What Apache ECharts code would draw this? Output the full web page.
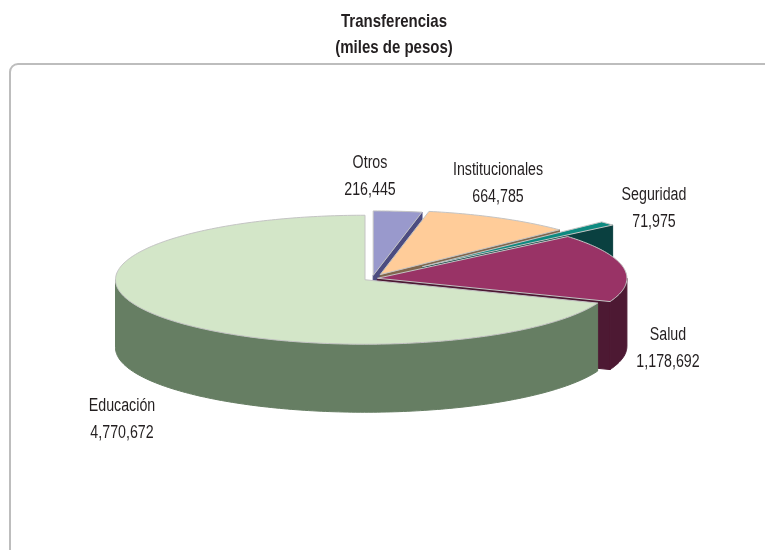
<!DOCTYPE html>
<html>
<head>
<meta charset="utf-8">
<script src="https://cdn.jsdelivr.net/npm/echarts@6/dist/echarts.min.js"></script>
<style>html,body{margin:0;padding:0;background:#fff}#c{width:765px;height:550px}</style>
</head>
<body>
<div id="c"></div>
<script>
// Data: clockwise from 12 o'clock
const categories = ['Otros', 'Institucionales', 'Seguridad', 'Salud', 'Educación'];
const values = [216445, 664785, 71975, 1178692, 4770672];
const titleLines = ['Transferencias', '(miles de pesos)'];

// Style
const topColors = ['#9999CC', '#FFCC99', '#0E8A80', '#993366', '#D3E6C8'];
const sideColors = ['#4C4C80', '#80664D', '#0A4040', '#4D1933', '#667E63'];
const explodeShare = [0.048, 0.068, 0.272, 0.022, 0.034];
const labelCenters = [[370, 176.5], [498, 183.5], [654, 208.5], [668, 348.5], [122, 419.5]];

const FONT = '"Liberation Sans", sans-serif';
const CX = 372, CY = 278.5, RX = 249.5, RY = 64.5, DEPTH = 68;
const TEXT_SQUEEZE = 0.79;
const TOTAL = values.reduce((a, b) => a + b, 0);
const RAD = Math.PI / 180;

let running = 0;
const spans = values.map(v => {
  const s = running;
  running += v / TOTAL * 360;
  return [s, running];
});

function renderSlice(params, api) {
  const i = api.value(0);
  const [t0, t1] = spans[i];
  const mid = (t0 + t1) / 2 * RAD;
  const d = explodeShare[i] * RX;
  const ax = CX + d * Math.sin(mid);
  const ay = CY - d * Math.cos(mid) * RY / RX;
  const pt = (t, dz) => [ax + RX * Math.sin(t * RAD), ay - RY * Math.cos(t * RAD) + (dz || 0)];
  const arc = (a, b, dz) => {
    const out = [], n = Math.max(2, Math.ceil(Math.abs(b - a)));
    for (let k = 0; k <= n; k++) out.push(pt(a + (b - a) * k / n, dz));
    return out;
  };
  const children = [];
  const side = sideColors[i];
  const poly = (points, fill, stroke) => ({
    type: 'polygon',
    shape: { points },
    style: { fill, stroke: stroke || fill, lineWidth: 1, lineJoin: 'round' }
  });
  // cut face at the clockwise end of the slice
  if (Math.sin(t1 * RAD) > 0.001) {
    children.push(poly([[ax, ay], pt(t1), pt(t1, DEPTH), [ax, ay + DEPTH]], side));
  }
  // cut face at the counter-clockwise start of the slice
  if (Math.sin(t0 * RAD) < -0.001) {
    children.push(poly([[ax, ay], pt(t0), pt(t0, DEPTH), [ax, ay + DEPTH]], side));
  }
  // outer wall, visible on the front half of the ellipse
  const w0 = Math.max(t0, 90), w1 = Math.min(t1, 270);
  if (w1 > w0) {
    children.push(poly(arc(w0, w1, 0).concat(arc(w1, w0, DEPTH)), side));
  }
  // top face
  children.push(poly([[ax, ay]].concat(arc(t0, t1, 0)), topColors[i], '#C4C4C4'));
  // label
  children.push({
    type: 'text',
    z2: 10,
    x: labelCenters[i][0],
    y: labelCenters[i][1],
    scaleX: TEXT_SQUEEZE,
    style: {
      text: categories[i] + '\n' + api.value(1).toLocaleString('en-US'),
      x: 0,
      y: 0,
      align: 'center',
      verticalAlign: 'middle',
      lineHeight: 27,
      font: '18px ' + FONT,
      fill: '#231F20'
    }
  });
  return { type: 'group', children };
}

const chart = echarts.init(document.getElementById('c'), null, { renderer: 'canvas' });
chart.setOption({
  animation: false,
  backgroundColor: '#fff',
  graphic: [{
    type: 'text',
    silent: true,
    x: 394,
    y: 35,
    scaleX: TEXT_SQUEEZE,
    style: {
      text: titleLines.join('\n'),
      align: 'center',
      verticalAlign: 'middle',
      lineHeight: 26,
      font: 'bold 19px ' + FONT,
      fill: '#231F20'
    }
  }, {
    type: 'rect',
    silent: true,
    shape: { x: 10, y: 64, width: 900, height: 700, r: 8 },
    style: { fill: 'none', stroke: '#BDBDBD', lineWidth: 2 }
  }],
  series: [{
    type: 'custom',
    coordinateSystem: 'none',
    renderItem: renderSlice,
    data: values.map((v, i) => [i, v])
  }]
});
</script>
</body>
</html>
